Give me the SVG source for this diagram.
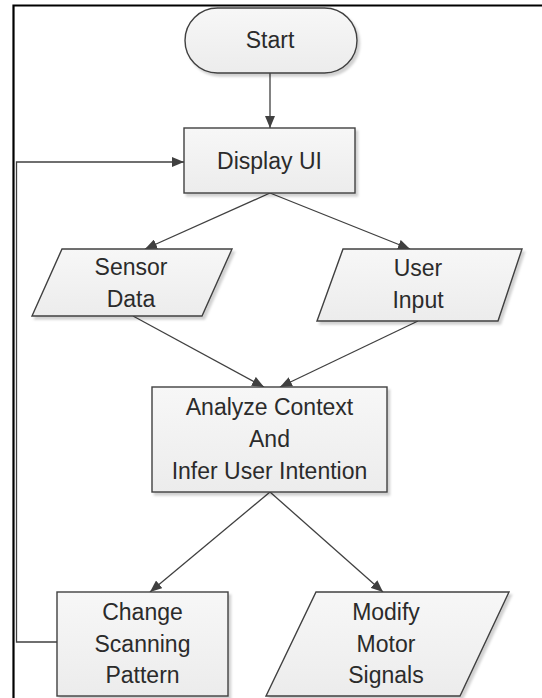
<svg xmlns="http://www.w3.org/2000/svg" width="542" height="698" viewBox="0 0 542 698">
  <style>
    .shape { fill: url(#fillGrad); stroke: #404040; stroke-width: 1.4; filter: url(#shadow); }
    .label { font-family: "Liberation Sans", Arial, sans-serif; font-size: 23px; fill: #2b2b2b; text-anchor: middle; }
    .conn { fill: none; stroke: #404040; stroke-width: 1.3; marker-end: url(#arrow); }
    .frame { fill: none; stroke: #000; stroke-width: 2.2; }
  </style>
  <defs>
    <linearGradient id="fillGrad" x1="0" y1="0" x2="0" y2="1">
      <stop offset="0" stop-color="#f7f7f7"/>
      <stop offset="1" stop-color="#ececec"/>
    </linearGradient>
    <filter id="shadow" x="-10%" y="-10%" width="130%" height="130%">
      <feDropShadow dx="2.5" dy="3" stdDeviation="1.2" flood-color="#000" flood-opacity="0.18"/>
    </filter>
    <marker id="arrow" viewBox="0 0 12 10" refX="12" refY="5" markerWidth="12" markerHeight="10" markerUnits="userSpaceOnUse" orient="auto">
      <path d="M0,0 L12,5 L0,10 z" fill="#404040"/>
    </marker>
  </defs>

  <rect width="542" height="698" fill="#fff"/>

  <!-- outer frame (top and left edges) -->
  <path class="frame" d="M13.5,698 L13.5,5.5 L542,5.5"/>

  <g id="connectors">
    <path class="conn" d="M270,73 L270,128"/>
    <path class="conn" d="M270,193 L145,249"/>
    <path class="conn" d="M270,193 L410,249"/>
    <path class="conn" d="M133,316 L264,387"/>
    <path class="conn" d="M418,321 L280,387"/>
    <path class="conn" d="M270,492 L150,592"/>
    <path class="conn" d="M270,492 L383,592"/>
    <path class="conn" d="M57,642 L16.5,642 L16.5,162 L184,162"/>
  </g>

  <g id="start">
    <rect class="shape" x="185" y="8" width="172" height="65" rx="32.5" ry="32.5"/>
    <text class="label" x="270" y="48">Start</text>
  </g>

  <g id="display-ui">
    <rect class="shape" x="184" y="128" width="171" height="65"/>
    <text class="label" x="269.5" y="169">Display UI</text>
  </g>

  <g id="sensor-data">
    <polygon class="shape" points="62,249 232,249 202,316 32,316"/>
    <text class="label" x="131" y="275">Sensor</text>
    <text class="label" x="131" y="307">Data</text>
  </g>

  <g id="user-input">
    <polygon class="shape" points="343,249 522,249 498,321 317,321"/>
    <text class="label" x="418" y="276">User</text>
    <text class="label" x="418" y="308">Input</text>
  </g>

  <g id="analyze">
    <rect class="shape" x="152" y="387" width="235" height="105"/>
    <text class="label" x="269.5" y="415">Analyze Context</text>
    <text class="label" x="269.5" y="447">And</text>
    <text class="label" x="269.5" y="479">Infer User Intention</text>
  </g>

  <g id="change-scanning">
    <rect class="shape" x="57" y="592" width="171" height="104"/>
    <text class="label" x="142.5" y="620">Change</text>
    <text class="label" x="142.5" y="652">Scanning</text>
    <text class="label" x="142.5" y="683">Pattern</text>
  </g>

  <g id="modify-motor">
    <polygon class="shape" points="316,592 509,592 460,696 266,696"/>
    <text class="label" x="386" y="620">Modify</text>
    <text class="label" x="386" y="652">Motor</text>
    <text class="label" x="386" y="683">Signals</text>
  </g>
</svg>
